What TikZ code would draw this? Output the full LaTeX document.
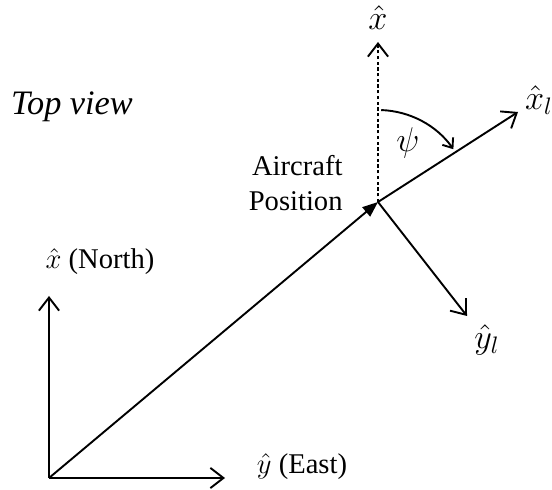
\documentclass[tikz,border=0pt,12pt]{standalone}
\usepackage{fontspec}
\setmainfont{Liberation Serif}
\usetikzlibrary{arrows.meta,positioning}

\begin{document}
\begin{tikzpicture}[x=0.42pt, y=0.42pt,
    axis/.style={line width=0.8pt, -{Straight Barb[length=5.5pt, width=8.5pt]}},
    heading/.style={line width=0.8pt, dash pattern=on 1.4pt off 1pt, -{Straight Barb[length=5.5pt, width=8.5pt]}},
    track/.style={line width=0.8pt, -{Triangle[length=6.5pt, width=5pt]}},
    sweep/.style={line width=0.8pt, -{Straight Barb[length=3.5pt, width=5.5pt]}},
    vec/.style={font=\large}]
  \useasboundingbox (0,0) rectangle (552,489);

  \coordinate (origin) at (49,11);
  \coordinate (north) at (49,193);
  \coordinate (east) at (225,11);
  \coordinate (ac) at (378,287);
  \coordinate (xtip) at (378,447);
  \coordinate (xltip) at (518,377);
  \coordinate (yltip) at (467,173);

  \draw[axis] (origin) -- (north);
  \draw[axis] (origin) -- (east);
  \draw[track] (origin) -- (ac);
  \draw[heading] (ac) -- (xtip);
  \draw[axis] (ac) -- (xltip);
  \draw[axis] (ac) -- (yltip);
  \draw[sweep] ([shift={(88:92)}]ac) arc[start angle=88, end angle=35, radius=92];

  \node[vec] (lxhat) at (378,471) {$\hat{x}$};
  \node[vec] (lxl) at (539,389) {$\hat{x}_l$};
  \node[vec] (lyl) at (487,149) {$\hat{y}_l$};
  \node[vec] (lpsi) at (408,346) {$\psi$};
  \node[anchor=east, align=right, inner sep=0pt] (lpos) at (343,306) {Aircraft\\Position};
  \node (lnorth) at (100,227) {$\hat{x}$ (North)};
  \node (least) at (302,22) {$\hat{y}$ (East)};
  \node[font=\large] (ltop) at (72,382) {\textit{Top view}};
\end{tikzpicture}
\end{document}
